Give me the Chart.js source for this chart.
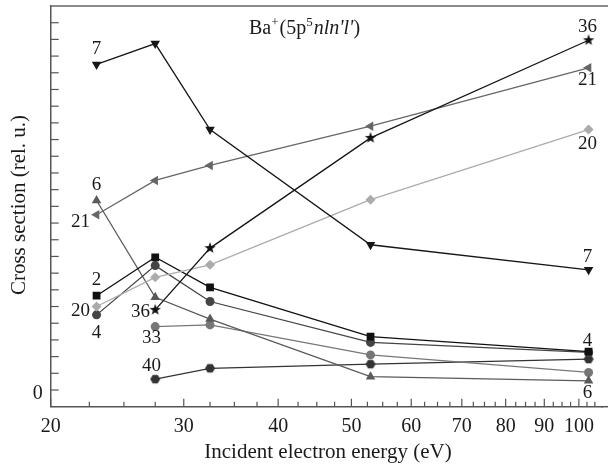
<!DOCTYPE html>
<html>
<head>
<meta charset="utf-8">
<script src="https://cdn.jsdelivr.net/npm/chart.js@4.4.1/dist/chart.umd.min.js"></script>
<style>
  html, body { margin: 0; padding: 0; background: #fff; }
</style>
</head>
<body>
<canvas id="chart" width="608" height="474"></canvas>
<script>
// incident energies (eV) and cross sections (rel. u.)
const energies = [23, 27.5, 32.5, 53, 103]
const sec7  = [19.5, 20.75, 15.6, 8.7, 7.2]
const sec36 = [null, 4.8, 8.5, 15.1, 20.95]
const sec21 = [10.5, 12.55, 13.45, 15.8, 19.3]
const sec20 = [5.0, 6.75, 7.5, 11.4, 15.6]
const sec2  = [5.65, 7.95, 6.15, 3.2, 2.3]
const sec4  = [4.5, 7.45, 5.3, 2.85, 2.25]
const sec6  = [11.35, 5.55, 4.25, 0.8, 0.55]
const sec33 = [null, 3.8, 3.9, 2.1, 1.05]
const sec40 = [null, 0.65, 1.3, 1.55, 1.85]

const xTickLabels = [20, 30, 40, 50, 60, 70, 80, 90, 100]
const yTickLabels = [0]

const SERIF = "'Liberation Serif', 'DejaVu Serif', serif"
const INK = '#1a1a1a'

function marker(draw, size) {
    const c = document.createElement('canvas')
    c.width = size
    c.height = size
    const g = c.getContext('2d')
    draw(g, size / 2)
    return c
}

const starMark = marker(function (g, m) {
    g.fillStyle = '#111'
    g.beginPath()
    for (let i = 0; i < 10; i++) {
        const r = i % 2 === 0 ? 6 : 2.4
        const a = -Math.PI / 2 + i * Math.PI / 5
        g.lineTo(m + r * Math.cos(a), m + r * Math.sin(a))
    }
    g.closePath()
    g.fill()
}, 14)

const hexMark = marker(function (g, m) {
    g.fillStyle = '#333'
    g.beginPath()
    for (let i = 0; i < 6; i++) {
        const a = i * Math.PI / 3
        g.lineTo(m + 5 * Math.cos(a), m + 5 * Math.sin(a))
    }
    g.closePath()
    g.fill()
}, 12)

function series(values, color, style, rotation, radius) {
    const pts = []
    values.forEach(function (v, i) {
        if (v !== null) pts.push({ x: energies[i], y: v })
    })
    return {
        data: pts,
        borderColor: color,
        backgroundColor: color,
        borderWidth: 1.3,
        pointStyle: style,
        rotation: rotation,
        pointRadius: radius,
        pointBorderWidth: 0,
        tension: 0
    }
}

const datasets = [
    series(sec7, '#161616', 'triangle', 180, 5.5),
    series(sec36, '#161616', starMark, 0, 6),
    series(sec21, '#666666', 'triangle', -90, 5.5),
    series(sec20, '#ababab', 'rectRot', 0, 5),
    series(sec2, '#111111', 'rect', 0, 5.5),
    series(sec4, '#444444', 'circle', 0, 4.5),
    series(sec6, '#5a5a5a', 'triangle', 0, 5.5),
    series(sec33, '#777777', 'circle', 0, 4.5),
    series(sec40, '#333333', hexMark, 0, 5)
]

// state labels next to the curves, placed in data coordinates
const curveLabels = [
    ['7', 23, 20.45], ['6', 23, 12.27], ['21', 21.9, 10.07], ['2', 23, 6.58],
    ['20', 21.9, 4.75], ['4', 23, 3.43], ['36', 26.3, 4.69], ['33', 27.2, 3.09],
    ['40', 27.2, 1.44],
    ['36', 102.7, 21.74], ['21', 102.7, 18.55], ['20', 102.7, 14.76],
    ['7', 102.7, 7.98], ['4', 102.7, 2.95], ['6', 102.7, -0.2]
]

const overlay = {
    id: 'overlay',
    afterDraw(chart) {
        const { ctx, chartArea: a, scales: { x, y } } = chart
        ctx.save()

        // frame line on top, bottom axis carried on to the canvas edge
        ctx.strokeStyle = '#666'
        ctx.lineWidth = 1.5
        ctx.beginPath()
        ctx.moveTo(a.left, a.top)
        ctx.lineTo(chart.width, a.top)
        ctx.stroke()
        ctx.strokeStyle = '#555'
        ctx.beginPath()
        ctx.moveTo(a.right - 1, a.bottom)
        ctx.lineTo(chart.width, a.bottom)
        ctx.stroke()

        // ticks point into the plot
        ctx.lineWidth = 1.2
        x.ticks.forEach(function (t) {
            const px = x.getPixelForValue(t.value)
            const len = xTickLabels.includes(t.value) ? 8 : 5
            ctx.beginPath()
            ctx.moveTo(px, a.bottom)
            ctx.lineTo(px, a.bottom - len)
            ctx.stroke()
        })
        y.ticks.forEach(function (t) {
            if (t.value < 0 || t.value > 22) return
            const py = y.getPixelForValue(t.value)
            ctx.beginPath()
            ctx.moveTo(a.left, py)
            ctx.lineTo(a.left + 8, py)
            ctx.stroke()
        })

        ctx.fillStyle = INK
        ctx.textAlign = 'center'
        ctx.textBaseline = 'middle'
        ctx.font = '19px ' + SERIF
        curveLabels.forEach(function (l) {
            ctx.fillText(l[0], x.getPixelForValue(l[1]), y.getPixelForValue(l[2]))
        })

        // axis titles
        ctx.font = '21px ' + SERIF
        ctx.textBaseline = 'alphabetic'
        ctx.fillText('Incident electron energy (eV)', 328, 458)
        ctx.save()
        ctx.translate(25, 205)
        ctx.rotate(-Math.PI / 2)
        ctx.fillText('Cross section (rel. u.)', 0, 0)
        ctx.restore()

        // Ba+(5p5 nln'l')
        const parts = [
            ['Ba', 'normal'], ['+', 'sup'], ['(5p', 'normal'],
            ['5', 'sup'], ["nln'l'", 'italic'], [')', 'normal']
        ]
        let cx = 249
        const base = 34
        ctx.textAlign = 'left'
        parts.forEach(function (p) {
            let dy = 0
            if (p[1] === 'sup') {
                ctx.font = '13px ' + SERIF
                dy = -8
            } else if (p[1] === 'italic') {
                ctx.font = 'italic 20px ' + SERIF
            } else {
                ctx.font = '20px ' + SERIF
            }
            ctx.fillText(p[0], cx, base + dy)
            cx += ctx.measureText(p[0]).width + (p[1] === 'sup' ? 1 : 0)
        })

        ctx.restore()
    }
}

new Chart(document.getElementById('chart'), {
    type: 'line',
    data: { datasets: datasets },
    options: {
        responsive: false,
        animation: false,
        events: [],
        layout: { padding: { top: 6, right: 0, left: 0, bottom: 0 } },
        plugins: {
            legend: { display: false },
            tooltip: { enabled: false }
        },
        scales: {
            x: {
                type: 'logarithmic',
                min: 20,
                max: 107.3,
                afterBuildTicks: function (scale) {
                    const ticks = []
                    for (let v = 20; v <= 107; v += 2.5) ticks.push({ value: v })
                    scale.ticks = ticks
                },
                afterFit: function (scale) {
                    scale.height = 67.3
                    scale.paddingLeft = 0
                    scale.paddingRight = 0
                },
                grid: { display: false, drawTicks: false },
                border: { display: true, color: '#555', width: 1.5 },
                ticks: {
                    autoSkip: false,
                    maxRotation: 0,
                    padding: 8,
                    color: INK,
                    font: { family: SERIF, size: 20 },
                    callback: function (v) { return xTickLabels.includes(v) ? String(v) : '' }
                }
            },
            y: {
                min: -1,
                max: 23,
                afterFit: function (scale) {
                    scale.width = 50.7
                    scale.paddingTop = 0
                    scale.paddingBottom = 0
                },
                grid: { display: false, drawTicks: false },
                border: { display: true, color: '#555', width: 1.5 },
                ticks: {
                    stepSize: 1,
                    autoSkip: false,
                    padding: 8,
                    labelOffset: 4,
                    color: INK,
                    font: { family: SERIF, size: 20 },
                    callback: function (v) { return yTickLabels.includes(v) ? String(v) : '' }
                }
            }
        }
    },
    plugins: [overlay]
})
</script>
</body>
</html>
